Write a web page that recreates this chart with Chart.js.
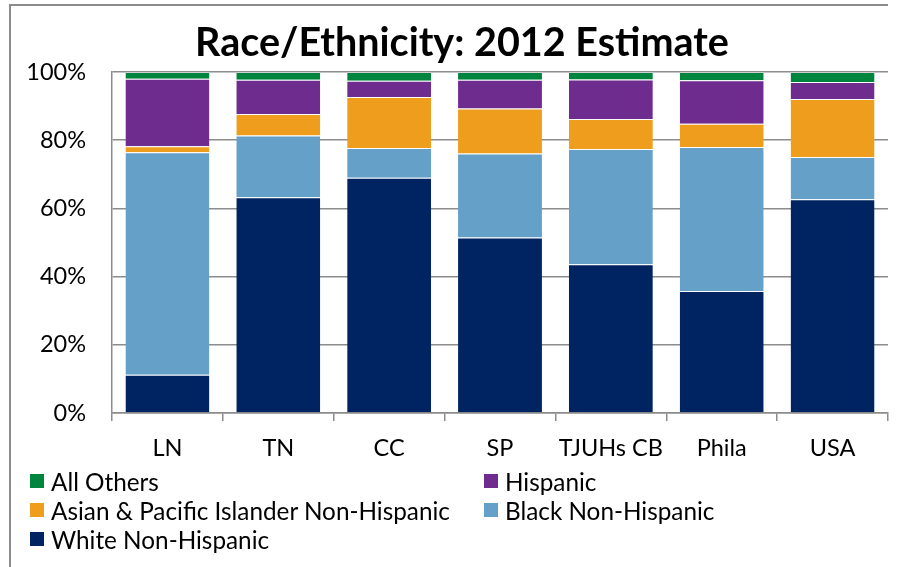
<!DOCTYPE html>
<html>
<head>
<meta charset="utf-8">
<script src="https://cdn.jsdelivr.net/npm/chart.js@4"></script>
<style>
    html, body { margin: 0; padding: 0; background: #fff; }
    #wrap { position: relative; width: 899px; height: 567px; }
    #frame { position: absolute; left: 9px; top: 4px; width: 879px; height: 563px;
             border-top: 2px solid #8c8c8c; border-left: 2px solid #8c8c8c; box-sizing: border-box; }
    #title { position: absolute; left: 162px; width: 600px; top: 17px; text-align: center;
             font-family: Lato, sans-serif; font-weight: bold; font-size: 39.5px; line-height: 47px; color: #000; }
    #legend { position: absolute; left: 30px; top: 469px; width: 860px;
              display: grid; grid-template-columns: 454px 400px; row-gap: 5px;
              font-family: Lato, sans-serif; font-size: 24.3px; color: #000; }
    #legend div { display: flex; align-items: center; height: 24px; white-space: nowrap; }
    #legend span.box { display: inline-block; width: 14px; height: 14px; margin-right: 7px; }
</style>
</head>
<body>
<div id="wrap">
    <canvas id="raceChart" width="899" height="567"></canvas>
    <div id="frame"></div>
    <div id="title">Race/Ethnicity: 2012 Estimate</div>
    <div id="legend"></div>
</div>
<script>
const sites = ['LN', 'TN', 'CC', 'SP', 'TJUHs CB', 'Phila', 'USA'];
const whiteNH = [11.2, 63.3, 69.0, 51.5, 43.6, 35.8, 62.7];
const blackNH = [65.3, 18.1, 8.7, 24.6, 33.8, 42.2, 12.4];
const asianPI = [1.7, 6.3, 15.0, 13.2, 8.8, 6.8, 17.0];
const hispanic = [19.8, 10.0, 4.7, 8.4, 11.6, 12.8, 5.0];
const allOthers = [2.0, 2.3, 2.6, 2.3, 2.2, 2.4, 2.9];
const yTicks = [0, 20, 40, 60, 80, 100];

const tickFont = { family: 'Lato', size: 23.5 };
const gridGrey = '#8c8c8c';

function series(label, data, color) {
    return {
        label, data, backgroundColor: color,
        borderColor: 'rgba(255,255,255,0.18)', borderWidth: { top: 1 },
        barPercentage: 0.757, categoryPercentage: 1.0
    };
}

const chart = new Chart(document.getElementById('raceChart'), {
    type: 'bar',
    data: {
        labels: sites,
        datasets: [
            series('White Non-Hispanic', whiteNH, '#002461'),
            series('Black Non-Hispanic', blackNH, '#65A0C8'),
            series('Asian & Pacific Islander Non-Hispanic', asianPI, '#EE9E1C'),
            series('Hispanic', hispanic, '#6E2C8E'),
            series('All Others', allOthers, '#00853F')
        ]
    },
    options: {
        responsive: false, animation: false,
        layout: { padding: { left: 0, right: 11, top: 72, bottom: 94 } },
        plugins: {
            legend: { display: false },
            tooltip: { enabled: false },
            title: { display: false }
        },
        scales: {
            x: {
                stacked: true,
                grid: { drawOnChartArea: false, drawTicks: true, tickLength: 8, color: gridGrey, lineWidth: 1.5 },
                border: { color: gridGrey, width: 1.5 },
                ticks: { color: '#000', font: tickFont, padding: 13, maxRotation: 0 },
                afterFit(scale) { scale.height = 60; }
            },
            y: {
                stacked: true, min: 0, max: 100,
                afterBuildTicks(scale) { scale.ticks = yTicks.map(v => ({ value: v })); },
                grid: { color: gridGrey, lineWidth: 1.5, drawTicks: false },
                border: { color: gridGrey, width: 1.5 },
                ticks: { color: '#000', font: tickFont, padding: 26, callback: v => v + '%' },
                afterFit(scale) { scale.width = 112; }
            }
        }
    }
});

const legendEl = document.getElementById('legend');
chart.data.datasets.slice().reverse().forEach(ds => {
    const item = document.createElement('div');
    const box = document.createElement('span');
    box.className = 'box';
    box.style.background = ds.backgroundColor;
    item.appendChild(box);
    item.appendChild(document.createTextNode(ds.label));
    legendEl.appendChild(item);
});
</script>
</body>
</html>
